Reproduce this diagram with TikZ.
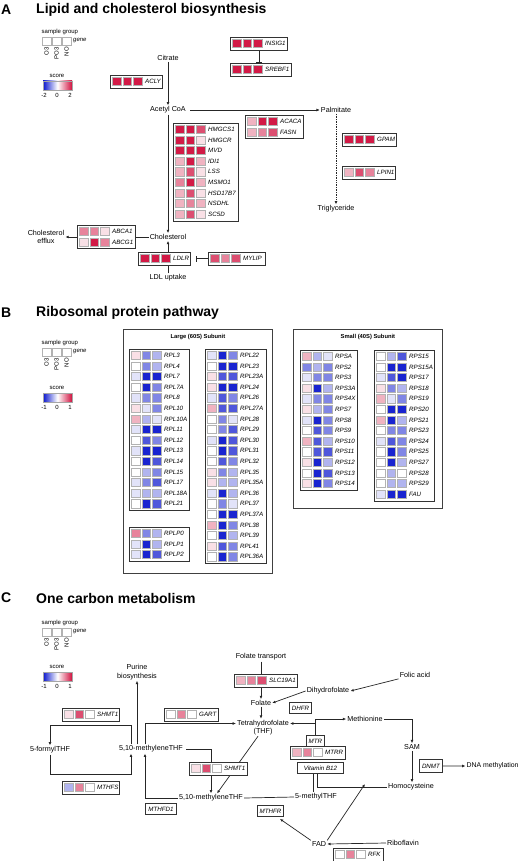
\documentclass[tikz,border=0pt]{standalone}
\usepackage{fontspec}
\setmainfont{Liberation Sans}
\usetikzlibrary{arrows.meta, positioning, backgrounds}

\definecolor{hotred}{RGB}{208,16,62}
\definecolor{deepblue}{RGB}{10,22,205}
\colorlet{p1}{hotred!13}
\colorlet{p2}{hotred!32}
\colorlet{p3}{hotred!52}
\colorlet{p4}{hotred!74}
\colorlet{p5}{hotred!96}
\colorlet{b1}{deepblue!12}
\colorlet{b2}{deepblue!32}
\colorlet{b3}{deepblue!52}
\colorlet{b4}{deepblue!72}
\colorlet{b5}{deepblue!94}
\colorlet{wt}{white}

\newcommand{\legfont}{\fontsize{6}{7}\selectfont}
\newcommand{\genefont}{\fontsize{6.2}{7}\selectfont\itshape}
\newcommand{\metfont}{\fontsize{7.2}{8.4}\selectfont}

\tikzset{
    cell/.style = {draw=gray!60, line width=0.45pt},
    geneframe/.style = {rectangle, draw=black!80, line width=0.9pt, fill=white, anchor=north west, inner sep=0pt},
    genelabel/.style = {anchor=west, inner sep=0.5pt, font=\genefont},
    enzbox/.style = {rectangle, draw=black!80, line width=0.9pt, fill=white, anchor=north west, inner xsep=2pt, inner ysep=0pt, minimum height=11pt, font=\genefont},
    metab/.style = {inner sep=1pt, align=center, font=\metfont},
    legtext/.style = {inner sep=0.5pt, font=\legfont}
}

% gene box: name, x, y, width, rows, cells/gene
\newcommand{\genebox}[6]{%
    \node[geneframe, minimum width=#4pt, minimum height=#5*10.6pt+2.1pt] (#1) at (#2,#3) {};
    \foreach \fa/\fb/\fc/\gn [count=\i] in {#6} {
        \pgfmathsetmacro{\ry}{#3+2.2+(\i-1)*10.6}
        \draw[cell, fill=\fa] (#2+2.5,\ry) rectangle ++(8.3,8.3);
        \draw[cell, fill=\fb] (#2+13,\ry) rectangle ++(8.3,8.3);
        \draw[cell, fill=\fc] (#2+23.5,\ry) rectangle ++(8.3,8.3);
        \node[genelabel] (#1-\i) at (#2+34.5,\ry+4.15) {\gn};
    }
}

% legend: prefix, y of sample group, y of score, low, high
\newcommand{\samplelegend}[5]{%
    \node[legtext, anchor=west] (#1-sg) at (41,#2) {sample group};
    \foreach \lab [count=\k] in {O3,PO3,NO} {
        \draw[cell] ({42+(\k-1)*10},#2+5) rectangle ++(9,8.5);
        \node[legtext, rotate=90, anchor=east] (#1-s\k) at ({46.5+(\k-1)*10},#2+14.5) {\lab};
    }
    \node[legtext, font=\legfont\itshape, anchor=west] (#1-gene) at (72.5,#2+8.5) {gene};
    \node[legtext] (#1-score) at (57,#3) {score};
    \node[scorebar] (#1-bar) at (57.5,#3+9.5) {};
    \node[legtext] (#1-lo) at (44,#3+19) {#4};
    \node[legtext] (#1-mid) at (57,#3+19) {0};
    \node[legtext] (#1-hi) at (70,#3+19) {#5};
}

\begin{document}
\begin{tikzpicture}[
        x=1pt, y=-1pt,
        % STYLES
        paneltag/.style = {anchor=west, inner sep=1pt, font=\fontsize{14}{16}\selectfont\bfseries},
        paneltitle/.style = {anchor=west, inner sep=1pt, font=\fontsize{14}{16}\selectfont\bfseries},
        scorebar/.style = {rectangle, draw=gray!70, line width=0.4pt, minimum width=29pt, minimum height=9pt, inner sep=0pt, left color=deepblue, right color=hotred, middle color=white},
        subframe/.style = {rectangle, draw=black!75, line width=0.8pt, fill=white, anchor=north west, inner sep=0pt},
        subhead/.style = {inner sep=0.5pt, font=\fontsize{5.8}{7}\selectfont\bfseries},
        conn/.style = {draw=black!85, line width=0.7pt, -{Latex[length=3.3pt,width=2.8pt]}},
        plainline/.style = {draw=black!85, line width=0.7pt},
        inhib/.style = {draw=black!85, line width=0.7pt, -{Bar[width=6pt,line width=1pt]}}
    ]
    \useasboundingbox (0,0) rectangle (520,861);

    % ===== A: lipid and cholesterol =====
    \node[paneltag] (tagA) at (0,10) {A};
    \node[paneltitle] (titleA) at (35,10) {Lipid and cholesterol biosynthesis};
    \samplelegend{legA}{32}{76}{-2}{2}

    % --- NODES ---
    \node[metab] (citrate) at (168,58) {Citrate};
    \node[metab] (acetyl) at (168,110) {Acetyl CoA};
    \node[metab] (palmitate) at (336,110) {Palmitate};
    \node[metab] (triglyceride) at (336,209) {Triglyceride};
    \node[metab] (cholesterol) at (168,237) {Cholesterol};
    \node[metab] (efflux) at (46,237) {Cholesterol\\efflux};
    \node[metab] (ldl) at (168,278) {LDL uptake};

    \genebox{acly}{110}{75}{52}{1}{p5/p5/p5/ACLY}
    \genebox{insig}{230}{37}{57}{1}{p5/p5/p5/INSIG1}
    \genebox{srebf}{230}{63}{61}{1}{p5/p5/p5/SREBF1}
    \genebox{acaca}{245}{115}{58}{2}{p2/p5/p5/ACACA, p2/p3/p4/FASN}
    \genebox{gpam}{342}{133}{54}{1}{p5/p5/p5/GPAM}
    \genebox{lpin}{342}{166}{53}{1}{p2/p4/p3/LPIN1}
    \genebox{hmgcs}{173}{123}{65}{9}{p5/p5/p4/HMGCS1, p5/p5/p1/HMGCR, p5/p5/p5/MVD,
        p2/p5/p2/IDI1, p2/p4/p1/LSS, p3/p5/p2/MSMO1, p2/p4/p1/HSD17B7, p2/p3/p2/NSDHL, p2/p4/p1/SC5D}
    \genebox{abca}{77}{225}{58}{2}{p3/p3/p1/ABCA1, p1/p5/p3/ABCG1}
    \genebox{ldlr}{138}{252}{52}{1}{p5/p5/p5/LDLR}
    \genebox{mylip}{208}{252}{57}{1}{p4/p3/p4/MYLIP}

    % ===== B: ribosomal protein =====
    \node[paneltag] (tagB) at (0,313) {B};
    \node[paneltitle] (titleB) at (35,313) {Ribosomal protein pathway};
    \samplelegend{legB}{343}{388}{-1}{1}

    \node[subframe, minimum width=149pt, minimum height=244pt] (large) at (123,329) {};
    \node[subhead, below=5pt of large.north] (largehead) {Large (60S) Subunit};
    \node[subframe, minimum width=149pt, minimum height=179pt] (small) at (293,329) {};
    \node[subhead, below=5pt of small.north] (smallhead) {Small (40S) Subunit};

    \genebox{rplA}{129}{349}{60}{15}{p1/b3/b2/RPL3, wt/b3/b2/RPL4, b1/b5/b5/RPL7, wt/b5/b3/RPL7A,
        b1/b3/b3/RPL8, p1/b1/b3/RPL10, p2/b2/b1/RPL10A, b1/b5/b5/RPL11, wt/b4/b3/RPL12,
        b1/b5/b5/RPL13, wt/b5/b4/RPL14, wt/b2/b3/RPL15, b1/b3/b4/RPL17, b1/b2/b2/RPL18A, wt/b5/b4/RPL21}
    \genebox{rplp}{129}{527}{60}{3}{p3/b3/b2/RPLP0, b1/b5/b2/RPLP1, b1/b5/b4/RPLP2}
    \genebox{rplB}{205}{349}{61}{20}{b1/b5/b3/RPL22, wt/b5/b5/RPL23, p1/b4/b4/RPL23A, p1/b5/b5/RPL24,
        b1/b4/b3/RPL26, p2/b4/b4/RPL27A, wt/b3/b1/RPL28, wt/b3/b4/RPL29, b1/b5/b4/RPL30,
        wt/b5/b4/RPL31, wt/b4/b3/RPL32, p1/b3/b2/RPL35, p1/b2/b2/RPL35A, b1/b5/b2/RPL36,
        wt/b3/b1/RPL37, wt/b5/b5/RPL37A, p2/b5/b3/RPL38, wt/b5/b2/RPL39, p1/b4/b3/RPL41, wt/b5/b3/RPL36A}
    \genebox{rpsA}{300}{350}{57}{13}{p2/b2/b1/RPSA, b3/b2/b3/RPS2, b1/b3/b3/RPS3, p1/b5/b2/RPS3A,
        b1/b3/b3/RPS4X, p1/b2/b3/RPS7, b1/b5/b3/RPS8, wt/b4/b3/RPS9, p2/b4/b2/RPS10,
        wt/b4/b4/RPS11, p1/b5/b2/RPS12, wt/b5/b4/RPS13, p1/b5/b3/RPS14}
    \genebox{rpsB}{374}{350}{60}{14}{wt/b2/b4/RPS15, wt/b5/b5/RPS15A, b1/b4/b5/RPS17, p1/b3/b2/RPS18,
        p2/b1/b3/RPS19, wt/b5/b5/RPS20, p2/b5/b2/RPS21, wt/b3/b3/RPS23, b1/b4/b3/RPS24,
        wt/b5/b3/RPS25, wt/b5/b2/RPS27, wt/b2/wt/RPS28, wt/b2/b2/RPS29, b1/b5/b5/FAU}

    % ===== C: one carbon metabolism =====
    \node[paneltag] (tagC) at (0,598) {C};
    \node[paneltitle] (titleC) at (35,598) {One carbon metabolism};
    \samplelegend{legC}{623}{667}{-1}{1}

    % --- NODES ---
    \node[metab] (purine) at (137,672) {Purine\\biosynthesis};
    \node[metab] (formyl) at (50,750) {5-formylTHF};
    \node[metab] (mthfup) at (151,749) {5,10-methyleneTHF};
    \node[metab] (mthflow) at (211,798) {5,10-methyleneTHF};
    \node[metab] (thf) at (263,727.5) {Tetrahydrofolate\\(THF)};
    \node[metab] (transport) at (261,657) {Folate transport};
    \node[metab] (folate) at (261,703) {Folate};
    \node[metab] (dihydro) at (328,691) {Dihydrofolate};
    \node[metab] (folic) at (415,675) {Folic acid};
    \node[metab] (methionine) at (365,719) {Methionine};
    \node[metab] (sam) at (412,747) {SAM};
    \node[metab] (homocys) at (411,787) {Homocysteine};
    \node[metab] (methylthf) at (316,797) {5-methylTHF};
    \node[metab, anchor=west, font=\fontsize{6.9}{8}\selectfont] (dnameth) at (465.5,766) {DNA methylation};
    \node[metab] (fad) at (319,844) {FAD};
    \node[metab] (ribo) at (403,843) {Riboflavin};

    \genebox{slc}{234}{674}{63}{1}{p2/p3/p4/SLC19A1}
    \genebox{shmtA}{62}{708}{57}{1}{p1/p4/wt/SHMT1}
    \genebox{gart}{164}{708}{54}{1}{wt/p3/wt/GART}
    \genebox{mthfs}{62}{781}{57}{1}{b2/p3/wt/MTHFS}
    \genebox{shmtB}{189}{762}{58}{1}{p1/p4/wt/SHMT1}
    \genebox{mtrr}{290}{746}{55}{1}{p2/p3/wt/MTRR}
    \genebox{rfk}{333}{848}{50}{1}{wt/p3/wt/RFK}

    \node[enzbox, minimum width=31pt] (mthfd) at (145,803) {MTHFD1};
    \node[enzbox, minimum width=22pt] (dhfr) at (289,702) {DHFR};
    \node[enzbox, minimum width=18pt] (mtr) at (306,735) {MTR};
    \node[enzbox, minimum width=46pt] (vitb) at (297,762) {Vitamin B12};
    \node[enzbox, minimum width=26pt] (mthfr) at (257,805) {MTHFR};
    \node[enzbox, minimum width=23pt, minimum height=13pt] (dnmt) at (419,759) {DNMT};
    \coordinate (thfin) at ([yshift=4pt]thf.east);

    % --- PATHS ---
    \begin{scope}[on background layer]
        \fill[white] (0,0) rectangle (520,861);
        % A
        \path[conn] (citrate) -- (acetyl);
        \path[conn] ([xshift=3pt]acetyl.east) -- (palmitate.west);
        \path[conn] (acetyl) -- (cholesterol);
        \path[conn, densely dotted, line width=1pt] (palmitate) -- (triglyceride);
        \path[inhib] (insig.south) -- (insig.south |- srebf.north);
        \path[conn] (cholesterol) -- (efflux);
        \path[conn] (ldl) -- (cholesterol);
        \path[inhib] (mylip.west) -- ([xshift=5pt]ldlr.east);

        % C
        \path[conn] ([xshift=-20pt]mthfup.north) -- ++(0,-19) -| (formyl.north);
        \path[conn] (formyl.south) -- ++(0,20) -| ([xshift=-20pt]mthfup.south);
        \path[conn] (purine.south |- mthfup.north) -- (purine.south);
        \path[conn] ([xshift=-6pt]mthfup.north) |- ([yshift=4pt]thf.west);
        \path[conn] ([xshift=2pt]mthfup.east) -| (mthflow.north);
        \path[conn] ([xshift=-5pt]thf.south) -- ([xshift=6pt]mthflow.north);
        \path[conn] (mthflow.west) -| ([xshift=-6pt]mthfup.south);
        \path[plainline] (mthflow.east) -- (methylthf.west);
        \path[conn] (transport.south) -- (transport.south |- folate.north);
        \path[conn] (folate.south) -- (folate.south |- thf.north);
        \path[conn] (dihydro.west) -- (folate.east);
        \path[conn] (folic.south west) -- (dihydro.east);
        \path[conn] (mtr.north) |- (methionine.west);
        \path[conn] (thfin -| mtr.north) -- (thfin);
        \path[conn] (methionine.east) -| (sam.north);
        \path[conn] (sam.south) -- (sam.south |- homocys.north);
        \path[plainline] ([xshift=-3pt]vitb.south) |- (homocys.west);
        \path[plainline] ([xshift=-7pt]vitb.south) -- ([xshift=-7pt]vitb.south |- methylthf.north);
        \path[conn] (dnmt.east) -- (dnameth.west);
        \path[conn] (ribo.west) -- (fad.east);
        \path[conn] (fad.north west) -- ([xshift=-4pt,yshift=-2pt]mthfr.south east);
        \path[conn] (fad.north east) -- ([xshift=-22pt,yshift=3pt]homocys.west);
    \end{scope}

\end{tikzpicture}
\end{document}
